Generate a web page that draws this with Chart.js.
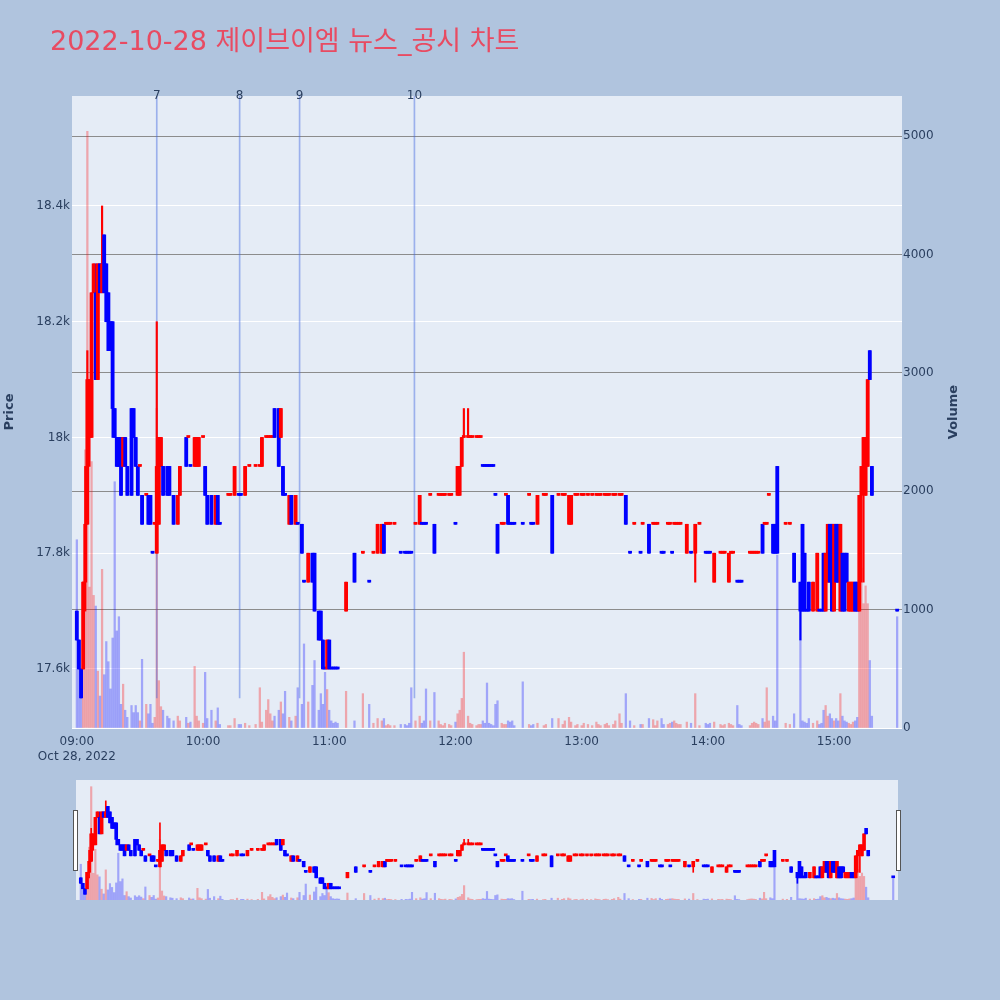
<!DOCTYPE html>
<html>
<head>
<meta charset="utf-8">
<script src="https://cdn.jsdelivr.net/npm/chart.js@4/dist/chart.umd.min.js"></script>
<style>
html,body{margin:0;padding:0;background:#B0C4DE;width:1000px;height:1000px;overflow:hidden}
.wrap{position:absolute;left:0;width:1000px}
.handle{position:absolute;box-sizing:border-box;width:5px;height:61px;top:810px;background:#fff;border:1px solid #555}
</style>
</head>
<body>
<div class="wrap" style="top:0;height:780px"><canvas id="main"></canvas></div>
<div class="wrap" style="top:770px;height:140px"><canvas id="mini"></canvas></div>
<div class="handle" style="left:73px"></div>
<div class="handle" style="left:896px"></div>
<script>
// ---------- data (minutes after 09:00, OHLC, volume) ----------
const titleText = '2022-10-28 제이브이엠 뉴스_공시 차트';
const dateLabel = 'Oct 28, 2022';
const minutes = [
  0,1,2,3,4,5,6,7,8,9,
  10,11,12,13,14,15,16,17,18,19,
  20,21,22,23,24,26,27,28,29,30,
  31,33,34,35,36,37,38,39,40,41,
  43,44,46,48,49,52,53,54,56,57,
  58,60,61,62,64,66,67,68,72,73,
  75,77,78,80,82,85,87,88,90,91,
  92,93,94,96,97,98,99,101,102,104,
  105,107,108,110,112,113,115,116,117,118,
  119,120,121,122,123,124,128,132,136,139,
  141,143,145,146,147,148,149,151,154,156,
  157,158,159,161,163,164,165,166,168,170,
  172,173,174,175,177,178,180,181,182,183,
  184,186,187,188,190,191,192,193,194,195,
  196,197,198,199,200,202,203,204,205,206,
  207,208,212,215,216,217,219,222,223,226,
  229,231,232,234,235,237,238,240,241,243,
  245,247,248,249,251,252,253,255,256,258,
  259,261,263,265,268,269,272,274,275,276,
  278,279,281,282,283,284,285,286,287,290,
  292,294,296,299,300,301,303,306,307,308,
  310,311,312,314,315,316,320,321,322,323,
  324,326,327,328,329,331,332,333,337,339,
  341,344,345,346,347,348,350,352,353,354,
  355,356,357,358,359,360,361,362,363,364,
  365,366,367,368,369,370,371,372,373,374,
  375,376,377,378,390
];
const opens = [
  17700,17650,17600,17600,17750,17850,18000,18000,18250,18250,
  18100,18300,18250,18350,18300,18250,18200,18200,18050,18000,
  18000,18000,17950,18000,17950,18050,18050,18000,17950,17950,
  17900,17900,17900,17900,17800,17850,17800,17850,17950,17950,
  17950,17950,17900,17850,17900,18000,18000,17950,17950,17950,
  17950,18000,17950,17900,17900,17850,17900,17850,17900,17900,
  17900,17900,17900,17900,17950,17950,17950,17950,18000,18000,
  18000,18000,18050,18050,18000,17950,17900,17850,17900,17850,
  17850,17850,17750,17750,17800,17800,17700,17700,17650,17600,
  17600,17650,17600,17600,17600,17600,17700,17800,17800,17750,
  17800,17800,17800,17850,17850,17850,17850,17850,17800,17800,
  17800,17800,17800,17850,17850,17850,17850,17850,17900,17850,
  17900,17900,17900,17900,17900,17900,17850,17900,17900,17950,
  18000,18000,18000,18000,18000,18000,18000,17950,17950,17950,
  17950,17950,17950,17900,17850,17850,17850,17900,17900,17850,
  17850,17850,17850,17900,17850,17850,17850,17900,17900,17900,
  17900,17900,17900,17850,17850,17900,17900,17900,17900,17900,
  17900,17900,17900,17900,17900,17900,17900,17900,17900,17900,
  17900,17900,17800,17850,17800,17850,17850,17850,17850,17850,
  17800,17800,17850,17850,17800,17850,17850,17850,17850,17800,
  17800,17800,17850,17800,17800,17800,17750,17800,17800,17800,
  17750,17800,17800,17750,17750,17750,17800,17800,17800,17800,
  17800,17850,17850,17850,17900,17850,17850,17950,17850,17850,
  17800,17750,17850,17800,17700,17750,17700,17700,17700,17700,
  17800,17700,17750,17850,17850,17700,17850,17850,17700,17800,
  17800,17800,17700,17700,17700,17750,17750,17700,17900,17950,
  17900,17950,18150,17950,17700
];
const highs = [
  17700,17650,17600,17750,17950,18150,18100,18250,18300,18300,
  18300,18300,18400,18350,18300,18250,18200,18200,18050,18000,
  18000,18000,18000,18000,17950,18050,18050,18000,17950,17950,
  17900,17900,17900,17900,17800,17850,18200,18000,18000,17950,
  17950,17950,17900,17900,17950,18000,18000,17950,18000,18000,
  18000,18000,17950,17900,17900,17900,17900,17850,17900,17900,
  17950,17900,17900,17950,17950,17950,17950,18000,18000,18000,
  18000,18000,18050,18050,18050,17950,17900,17900,17900,17900,
  17850,17850,17750,17800,17800,17800,17700,17700,17650,17600,
  17650,17650,17600,17600,17600,17600,17750,17800,17800,17750,
  17800,17850,17850,17850,17850,17850,17850,17850,17800,17800,
  17800,17800,17800,17850,17900,17850,17850,17850,17900,17850,
  17900,17900,17900,17900,17900,17900,17850,17950,17950,18000,
  18050,18050,18000,18000,18000,18000,18000,17950,17950,17950,
  17950,17950,17950,17900,17850,17850,17850,17900,17900,17850,
  17850,17850,17850,17900,17850,17850,17900,17900,17900,17900,
  17900,17900,17900,17900,17900,17900,17900,17900,17900,17900,
  17900,17900,17900,17900,17900,17900,17900,17900,17900,17900,
  17900,17900,17800,17850,17800,17850,17850,17850,17850,17850,
  17800,17800,17850,17850,17800,17850,17850,17850,17850,17850,
  17800,17850,17850,17800,17800,17800,17800,17800,17800,17800,
  17800,17800,17800,17750,17750,17750,17800,17800,17800,17800,
  17800,17850,17850,17850,17900,17850,17850,17950,17850,17850,
  17800,17750,17850,17800,17700,17750,17750,17800,17700,17700,
  17800,17800,17850,17850,17850,17850,17850,17850,17850,17800,
  17800,17800,17750,17750,17750,17750,17750,17900,17950,18000,
  18000,18100,18150,17950,17700
];
const lows = [
  17650,17600,17550,17600,17700,17850,17950,18000,18250,18100,
  18100,18250,18250,18250,18200,18150,18150,18000,18000,17950,
  17950,17900,17950,17950,17900,17900,18000,17950,17900,17950,
  17850,17900,17850,17850,17800,17850,17800,17850,17950,17900,
  17900,17900,17850,17850,17900,17950,18000,17950,17950,17950,
  17950,18000,17900,17850,17850,17850,17850,17850,17900,17900,
  17900,17900,17900,17900,17950,17950,17950,17950,18000,18000,
  18000,18000,18000,17950,18000,17900,17900,17850,17850,17850,
  17850,17800,17750,17750,17750,17700,17650,17650,17600,17600,
  17600,17600,17600,17600,17600,17600,17700,17750,17800,17750,
  17800,17800,17800,17800,17850,17850,17850,17850,17800,17800,
  17800,17800,17800,17850,17850,17850,17850,17850,17900,17800,
  17900,17900,17900,17900,17900,17900,17850,17900,17900,17950,
  18000,18000,18000,18000,18000,18000,18000,17950,17950,17950,
  17950,17950,17950,17900,17800,17850,17850,17900,17850,17850,
  17850,17850,17850,17900,17850,17850,17850,17900,17900,17800,
  17900,17900,17900,17850,17850,17900,17900,17900,17900,17900,
  17900,17900,17900,17900,17900,17900,17900,17900,17900,17900,
  17900,17850,17800,17850,17800,17850,17800,17850,17850,17850,
  17800,17800,17850,17850,17800,17850,17850,17850,17850,17800,
  17800,17750,17850,17800,17800,17800,17750,17800,17800,17800,
  17750,17800,17800,17750,17750,17750,17800,17800,17800,17800,
  17800,17800,17850,17850,17900,17800,17800,17800,17850,17850,
  17750,17650,17700,17700,17700,17700,17700,17700,17700,17700,
  17700,17700,17750,17750,17700,17700,17750,17750,17700,17700,
  17700,17750,17700,17700,17700,17700,17700,17700,17750,17750,
  17900,17950,18100,17900,17700
];
const closes = [
  17650,17600,17550,17750,17850,18100,18100,18250,18300,18100,
  18300,18250,18300,18250,18200,18150,18150,18050,18000,17950,
  17950,17900,18000,17950,17900,17900,18000,17950,17900,17950,
  17850,17900,17850,17850,17800,17850,17950,18000,18000,17900,
  17900,17900,17850,17900,17950,17950,18000,17950,18000,18000,
  18000,18000,17900,17850,17850,17900,17850,17850,17900,17900,
  17950,17900,17900,17950,17950,17950,17950,18000,18000,18000,
  18000,18000,18000,17950,18050,17900,17900,17900,17850,17900,
  17850,17800,17750,17800,17750,17700,17650,17650,17600,17600,
  17650,17600,17600,17600,17600,17600,17750,17750,17800,17750,
  17800,17850,17850,17800,17850,17850,17850,17850,17800,17800,
  17800,17800,17800,17850,17900,17850,17850,17850,17900,17800,
  17900,17900,17900,17900,17900,17900,17850,17950,17950,18000,
  18000,18000,18000,18000,18000,18000,18000,17950,17950,17950,
  17950,17950,17950,17900,17800,17850,17850,17900,17850,17850,
  17850,17850,17850,17900,17850,17850,17900,17900,17900,17800,
  17900,17900,17900,17900,17900,17900,17900,17900,17900,17900,
  17900,17900,17900,17900,17900,17900,17900,17900,17900,17900,
  17900,17850,17800,17850,17800,17850,17800,17850,17850,17850,
  17800,17800,17850,17850,17800,17850,17850,17850,17850,17850,
  17800,17850,17850,17800,17800,17800,17800,17800,17800,17800,
  17800,17800,17800,17750,17750,17750,17800,17800,17800,17800,
  17800,17800,17850,17850,17900,17800,17800,17800,17850,17850,
  17750,17700,17700,17700,17700,17700,17750,17800,17700,17700,
  17700,17800,17850,17750,17700,17850,17750,17750,17850,17700,
  17700,17750,17750,17750,17750,17700,17700,17900,17950,18000,
  18000,18100,18100,17900,17700
];
const volumes = [
  1590,500,420,1240,2350,5040,1190,2250,1120,1030,
  480,270,1340,450,730,560,330,760,2080,820,
  940,200,370,150,90,190,130,190,130,60,
  580,200,120,200,40,90,2700,400,180,150,
  100,80,60,100,60,90,40,50,520,100,
  60,40,470,80,150,60,170,30,20,20,
  80,30,30,40,20,30,340,50,150,240,
  120,60,100,150,220,120,310,90,60,100,
  340,200,710,220,360,570,150,290,200,470,
  325,150,60,40,50,40,310,60,290,200,
  40,80,60,80,20,30,20,20,30,30,
  20,40,340,60,100,40,60,330,60,300,
  60,30,20,40,30,20,50,120,150,250,
  640,100,40,30,20,30,30,60,40,380,
  40,30,20,200,230,40,30,30,60,50,
  60,20,390,30,20,30,40,20,30,80,
  80,30,60,90,50,20,30,20,40,30,
  20,50,30,20,30,40,20,30,60,120,
  40,290,60,20,30,30,80,70,20,60,
  80,30,30,40,50,60,40,30,30,50,
  40,290,20,40,30,40,50,30,20,30,
  40,30,20,190,30,20,20,40,50,40,
  30,80,50,340,60,100,60,1460,40,30,
  120,1100,60,50,40,80,40,60,30,40,
  150,190,100,120,80,60,80,60,290,100,
  60,50,40,30,50,60,90,1000,1350,1050,
  1200,1050,570,100,940
];
const newsTimes = [38, 77.4, 105.9, 160.5];
const newsLabels = ['7', '8', '9', '10'];
const timeTicks = [0, 60, 120, 180, 240, 300, 360];
const priceTicks = [17600, 17800, 18000, 18200, 18400];
const volumeTicks = [0, 1000, 2000, 3000, 4000, 5000];

// ---------- axis ranges & styles ----------
const xMin = -2.3, xMax = 392.3;
const priceMin = 17498, priceMax = 18590;
const volMin = 0, volMax = 5338;
const FONT = "'DejaVu Sans', 'Noto Sans CJK KR', sans-serif";
const TXT = '#2a3f5f';
const UP = '#ff0000', DOWN = '#0000ff';
const UP_V = 'rgba(255,0,0,0.3)', DOWN_V = 'rgba(0,0,255,0.3)';

// candle direction (flat candles compare with previous close)
const dirs = [];
(function () {
  let inc = true, cPrev = null;
  for (let i = 0; i < minutes.length; i++) {
    const o = opens[i], c = closes[i];
    if (c === o) { if (cPrev !== null && c !== cPrev) inc = c > cPrev; }
    else inc = c > o;
    cPrev = c;
    dirs.push(inc);
  }
})();
const candleColors = dirs.map(d => d ? UP : DOWN);
const volColors = dirs.map(d => d ? UP_V : DOWN_V);
const bodyData = minutes.map((m, i) => ({x: m, y: [Math.min(opens[i], closes[i]), Math.max(opens[i], closes[i])]}));
const wickData = minutes.map((m, i) => ({x: m, y: [lows[i], highs[i]]}));
const volData = minutes.map((m, i) => ({x: m, y: volumes[i]}));
const lowest = Math.min(...lows);
const newsData = newsTimes.map(t => ({x: t, y: [lowest, priceMax]}));

function hhmm(v) {
  const t = 9 * 60 + v;
  const h = Math.floor(t / 60), mm = t % 60;
  return String(h).padStart(2, '0') + ':' + String(mm).padStart(2, '0');
}

const bgPlugin = {
  id: 'bg',
  beforeDraw(chart) {
    const {ctx, chartArea: a} = chart;
    ctx.save();
    ctx.fillStyle = '#E5ECF6';
    ctx.fillRect(a.left, a.top, a.right - a.left, a.bottom - a.top);
    ctx.restore();
  }
};

const textPlugin = {
  id: 'texts',
  afterDraw(chart) {
    const {ctx, chartArea: a, scales} = chart;
    ctx.save();
    ctx.fillStyle = '#E84B62';
    ctx.font = '27px ' + FONT;
    ctx.textAlign = 'left';
    ctx.textBaseline = 'alphabetic';
    ctx.fillText(titleText, 50, 50);

    ctx.fillStyle = TXT;
    ctx.font = 'bold 13px ' + FONT;
    ctx.textAlign = 'center';
    ctx.textBaseline = 'middle';
    const cy = (a.top + a.bottom) / 2;
    ctx.save(); ctx.translate(10, cy); ctx.rotate(-Math.PI / 2); ctx.fillText('Price', 0, 0); ctx.restore();
    ctx.save(); ctx.translate(954, cy); ctx.rotate(-Math.PI / 2); ctx.fillText('Volume', 0, 0); ctx.restore();

    ctx.font = '12px ' + FONT;
    ctx.fillStyle = TXT;
    newsTimes.forEach((t, i) => {
      const x = scales.x.getPixelForValue(t);
      ctx.fillText(newsLabels[i], x, a.top);
    });
    ctx.restore();
  }
};

Chart.defaults.font.family = FONT;

new Chart(document.getElementById('main'), {
  type: 'bar',
  data: {
    datasets: [
      {label: 'body', data: bodyData, backgroundColor: candleColors, barThickness: 3.2, minBarLength: 2, grouped: false, yAxisID: 'y', order: 0},
      {label: 'wick', data: wickData, backgroundColor: candleColors, barThickness: 1.5, grouped: false, yAxisID: 'y', order: 1},
      {label: 'news', data: newsData, backgroundColor: 'rgba(65,105,225,0.45)', barThickness: 1, grouped: false, yAxisID: 'y', order: 2},
      {label: 'volume', data: volData, backgroundColor: volColors, barThickness: 1.6, grouped: false, yAxisID: 'yv', order: 3}
    ]
  },
  options: {
    responsive: true,
    maintainAspectRatio: false,
    animation: false,
    layout: {padding: {top: 96, left: 0, right: 0, bottom: 0}},
    plugins: {legend: {display: false}, tooltip: {enabled: false}},
    scales: {
      x: {
        type: 'linear', min: xMin, max: xMax, offset: false,
        grid: {display: false, drawTicks: false}, border: {display: false},
        afterBuildTicks: s => { s.ticks = timeTicks.map(v => ({value: v})); },
        afterFit: s => { s.height = 52; },
        ticks: {autoSkip: false, maxRotation: 0, padding: 7, color: TXT, font: {size: 12},
          callback: v => v === 0 ? [hhmm(v), dateLabel] : hhmm(v)}
      },
      y: {
        type: 'linear', position: 'left', min: priceMin, max: priceMax,
        grid: {color: '#ffffff', lineWidth: 1, drawTicks: false}, border: {display: false},
        afterBuildTicks: s => { s.ticks = priceTicks.map(v => ({value: v})); },
        afterFit: s => { s.width = 72; },
        ticks: {padding: 2, color: TXT, font: {size: 12}, callback: v => (v / 1000) + 'k'}
      },
      yv: {
        type: 'linear', position: 'right', min: volMin, max: volMax,
        grid: {color: c => (c.tick && c.tick.value === 0) ? '#ffffff' : '#8c8c8c', lineWidth: 1, drawTicks: false},
        border: {display: false},
        afterBuildTicks: s => { s.ticks = volumeTicks.map(v => ({value: v})); },
        afterFit: s => { s.width = 98; },
        ticks: {padding: 1, color: TXT, font: {size: 12}, callback: v => String(v)}
      }
    }
  },
  plugins: [bgPlugin, textPlugin]
});

new Chart(document.getElementById('mini'), {
  type: 'bar',
  data: {
    datasets: [
      {label: 'body', data: bodyData, backgroundColor: candleColors, barThickness: 3, minBarLength: 2, grouped: false, yAxisID: 'y', order: 0},
      {label: 'wick', data: wickData, backgroundColor: candleColors, barThickness: 1, grouped: false, yAxisID: 'y', order: 1},
      {label: 'volume', data: volData, backgroundColor: volColors, barThickness: 1.5, grouped: false, yAxisID: 'yv', order: 2}
    ]
  },
  options: {
    responsive: true,
    maintainAspectRatio: false,
    animation: false,
    layout: {padding: {top: 10, left: 76, right: 102, bottom: 10}},
    plugins: {legend: {display: false}, tooltip: {enabled: false}},
    scales: {
      x: {type: 'linear', display: false, min: xMin, max: xMax, offset: false},
      y: {type: 'linear', display: false, position: 'left', min: priceMin, max: priceMax},
      yv: {type: 'linear', display: false, position: 'right', min: volMin, max: volMax}
    }
  },
  plugins: [bgPlugin]
});
</script>
</body>
</html>
